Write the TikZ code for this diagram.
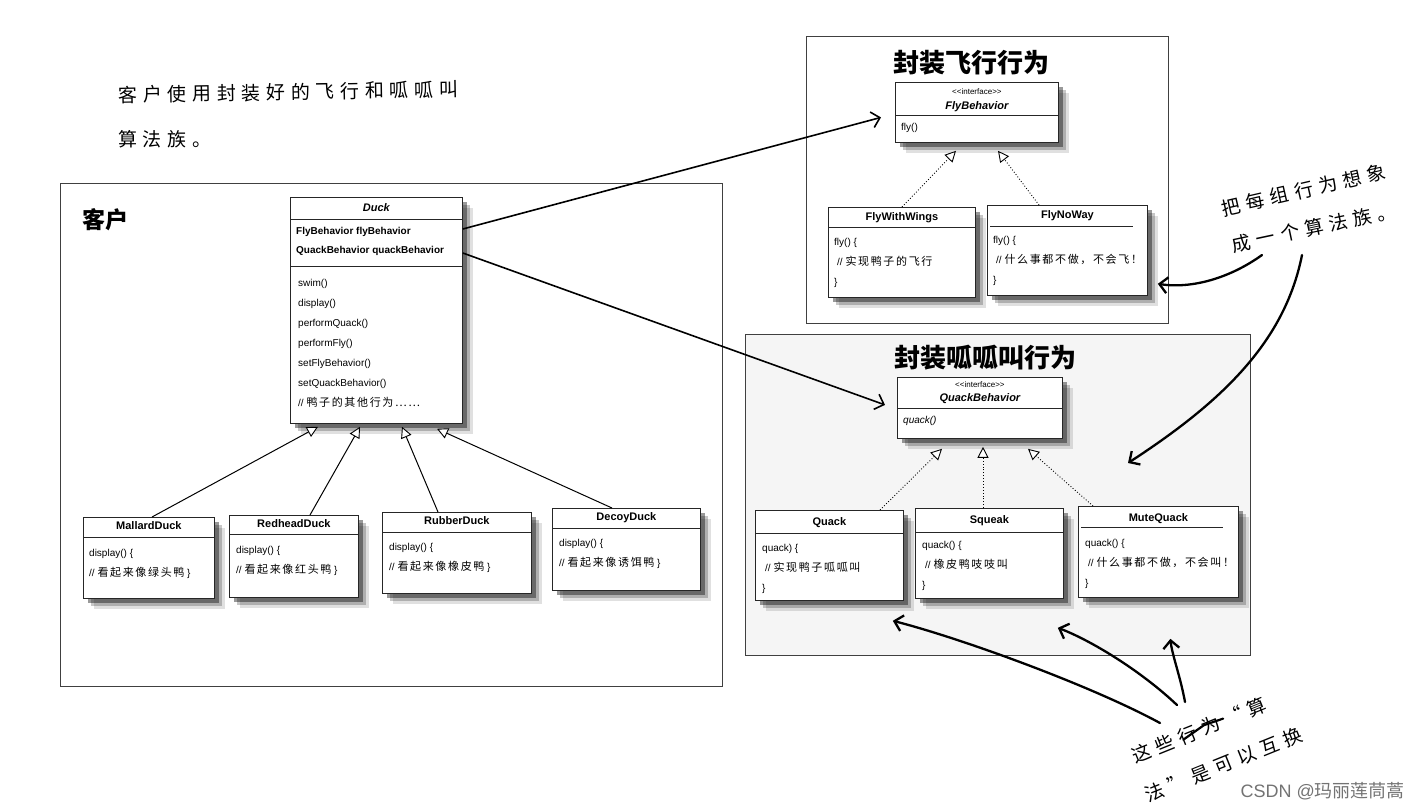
\documentclass[tikz,border=0pt]{standalone}
\usepackage{fontspec}
\setmainfont{Liberation Sans}
\newfontfamily\zhfont{Noto Sans CJK SC}
\newfontfamily\zhbody[LetterSpace=15]{Noto Sans CJK SC}
\newfontfamily\zhhand[LetterSpace=30]{Noto Sans CJK SC}
\usepackage{tikz}
\usetikzlibrary{positioning,arrows.meta,calc,shadows}
\tikzset{
  frame/.style  = {rectangle, draw=black!75, line width=1.3pt, anchor=north west, inner sep=0pt},
  cls/.style    = {rectangle, draw=black!85, fill=white, line width=0.8pt, anchor=north west, inner sep=0pt,
                   drop shadow={shadow xshift=11pt, shadow yshift=-11pt, fill=black, opacity=.12},
                   drop shadow={shadow xshift=8pt, shadow yshift=-8pt, fill=black, opacity=.22},
                   drop shadow={shadow xshift=5pt, shadow yshift=-5pt, fill=black, opacity=.4}},
  ttl/.style    = {inner sep=0pt, font=\fontsize{11}{12}\selectfont\bfseries},
  ittl/.style   = {inner sep=0pt, font=\fontsize{11}{12}\selectfont\bfseries\itshape},
  stereo/.style = {inner sep=0pt, font=\fontsize{8}{9}\selectfont},
  body/.style   = {inner sep=0pt, anchor=north west, align=left, font=\fontsize{10}{20}\selectfont},
  divl/.style   = {draw=black!85, line width=0.6pt},
  grp/.style    = {inner sep=0pt, font=\zhfont\fontsize{26}{28}\selectfont\bfseries},
  hand/.style   = {inner sep=0pt, anchor=west, font=\zhhand\fontsize{19}{21}\selectfont},
  inh/.style    = {line width=1pt, -{Triangle[open, length=11pt, width=11pt, fill=white, line width=0.9pt]}},
  impl/.style   = {line width=0.9pt, dotted, -{Triangle[open, length=11pt, width=11pt, fill=white, line width=0.9pt]}},
  assoc/.style  = {line width=1.6pt, -{Straight Barb[length=8pt, width=16pt, line width=1.6pt]}},
  note/.style   = {line width=2.3pt, line cap=round, -{Straight Barb[length=8pt, width=16pt, line width=2.3pt]}},
}
\newcommand{\zh}[1]{{\zhbody\fontsize{11}{20}\selectfont #1}}

\begin{document}
\begin{tikzpicture}[x=1pt, y=-1pt]
  \useasboundingbox (0,0) rectangle (1420,809);

  % client side
  \node[frame, minimum width=662pt, minimum height=503pt] (client) at (60,183) {};
  \node[inner sep=0pt, font=\zhfont\fontsize{23}{25}\selectfont\bfseries] (clientlbl) at (105,220) {客户};

  \node[cls, minimum width=172pt, minimum height=226pt] (duck) at (290,197) {};
  \node[ittl, below=6pt of duck.north] (duckname) {Duck};
  \draw[divl] ($(duck.north west)+(0,22)$) -- ($(duck.north east)+(0,22)$);
  \node[body, font=\fontsize{10}{19}\selectfont\bfseries] (duckattr) at ($(duck.north west)+(6,30)$)
    {FlyBehavior flyBehavior\\QuackBehavior quackBehavior};
  \draw[divl] ($(duck.north west)+(0,69)$) -- ($(duck.north east)+(0,69)$);
  \node[body] (duckops) at ($(duck.north west)+(8,82)$)
    {swim()\\display()\\performQuack()\\performFly()\\setFlyBehavior()\\setQuackBehavior()\\// \zh{鸭子的其他行为……}};

  \node[cls, minimum width=131pt, minimum height=81pt] (mallard) at (83,517) {};
  \node[ttl, below=4pt of mallard.north] (mallardname) {MallardDuck};
  \draw[divl] ($(mallard.north west)+(0,20)$) -- ($(mallard.north east)+(0,20)$);
  \node[body] (mallardops) at ($(mallard.north west)+(6,32)$) {display() \{\\// \zh{看起来像绿头鸭} \}};

  \node[cls, minimum width=129pt, minimum height=82pt] (redhead) at (229,515) {};
  \node[ttl, below=4pt of redhead.north] (redheadname) {RedheadDuck};
  \draw[divl] ($(redhead.north west)+(0,19)$) -- ($(redhead.north east)+(0,19)$);
  \node[body] (redheadops) at ($(redhead.north west)+(7,31)$) {display() \{\\// \zh{看起来像红头鸭} \}};

  \node[cls, minimum width=149pt, minimum height=81pt] (rubber) at (382,512) {};
  \node[ttl, below=4pt of rubber.north] (rubbername) {RubberDuck};
  \draw[divl] ($(rubber.north west)+(0,20)$) -- ($(rubber.north east)+(0,20)$);
  \node[body] (rubberops) at ($(rubber.north west)+(7,31)$) {display() \{\\// \zh{看起来像橡皮鸭} \}};

  \node[cls, minimum width=148pt, minimum height=82pt] (decoy) at (552,508) {};
  \node[ttl, below=4pt of decoy.north] (decoyname) {DecoyDuck};
  \draw[divl] ($(decoy.north west)+(0,20)$) -- ($(decoy.north east)+(0,20)$);
  \node[body] (decoyops) at ($(decoy.north west)+(7,31)$) {display() \{\\// \zh{看起来像诱饵鸭} \}};

  \draw[inh] ($(mallard.north west)+(69,0)$) -- ($(duck.south west)+(28,3)$);
  \draw[inh] ($(redhead.north west)+(81,0)$) -- ($(duck.south west)+(70,3)$);
  \draw[inh] ($(rubber.north west)+(56,0)$) -- ($(duck.south west)+(112,3)$);
  \draw[inh] ($(decoy.north west)+(60,0)$) -- ($(duck.south west)+(147,5)$);

  % fly behaviours
  \node[frame, minimum width=362pt, minimum height=287pt] (flyfr) at (806,36) {};
  \node[grp] (flytitle) at (971,63) {封装飞行行为};

  \node[cls, minimum width=163pt, minimum height=60pt] (flyif) at (895,82) {};
  \node[stereo, below=6pt of flyif.north] (flyst) {{<}{<}interface{>}{>}};
  \node[ittl, below=19pt of flyif.north] (flyname) {FlyBehavior};
  \draw[divl] ($(flyif.north west)+(0,33)$) -- ($(flyif.north east)+(0,33)$);
  \node[body] (flyops) at ($(flyif.north west)+(6,41)$) {fly()};

  \node[cls, minimum width=147pt, minimum height=90pt] (flywings) at (828,207) {};
  \node[ttl, below=5pt of flywings.north] (flywingsname) {FlyWithWings};
  \draw[divl] ($(flywings.north west)+(0,20)$) -- ($(flywings.north east)+(0,20)$);
  \node[body] (flywingsops) at ($(flywings.north west)+(6,31)$)
    {fly() \{\\\hspace{3pt}// \zh{实现鸭子的飞行}\\\}};

  \node[cls, minimum width=160pt, minimum height=90pt] (flynoway) at (987,205) {};
  \node[ttl, below=5pt of flynoway.north] (flynowayname) {FlyNoWay};
  \draw[divl] ($(flynoway.north west)+(3,21)$) -- ($(flynoway.north west)+(146,21)$);
  \node[body] (flynowayops) at ($(flynoway.north west)+(6,31)$)
    {fly() \{\\\hspace{3pt}// \zh{什么事都不做，不会飞！}\\\}};

  \draw[impl] ($(flywings.north west)+(74,0)$) -- ($(flyif.south west)+(61,8)$);
  \draw[impl] ($(flynoway.north west)+(52,0)$) -- ($(flyif.south west)+(103,8)$);

  % quack behaviours
  \node[frame, fill=black!4, minimum width=505pt, minimum height=321pt] (quackfr) at (745,334) {};
  \node[grp] (quacktitle) at (985,358) {封装呱呱叫行为};

  \node[cls, minimum width=165pt, minimum height=61pt] (quackif) at (897,377) {};
  \node[stereo, below=4pt of quackif.north] (quackst) {{<}{<}interface{>}{>}};
  \node[ittl, below=16pt of quackif.north] (quackifname) {QuackBehavior};
  \draw[divl] ($(quackif.north west)+(0,31)$) -- ($(quackif.north east)+(0,31)$);
  \node[body, font=\fontsize{10}{20}\selectfont\itshape] (quackifops) at ($(quackif.north west)+(6,39)$) {quack()};

  \node[cls, minimum width=148pt, minimum height=90pt] (quack) at (755,510) {};
  \node[ttl, below=7pt of quack.north] (quackname) {Quack};
  \draw[divl] ($(quack.north west)+(0,23)$) -- ($(quack.north east)+(0,23)$);
  \node[body] (quackops) at ($(quack.north west)+(7,34)$)
    {quack) \{\\\hspace{3pt}// \zh{实现鸭子呱呱叫}\\\}};

  \node[cls, minimum width=148pt, minimum height=90pt] (squeak) at (915,508) {};
  \node[ttl, below=7pt of squeak.north] (squeakname) {Squeak};
  \draw[divl] ($(squeak.north west)+(0,24)$) -- ($(squeak.north east)+(0,24)$);
  \node[body] (squeakops) at ($(squeak.north west)+(7,33)$)
    {quack() \{\\\hspace{3pt}// \zh{橡皮鸭吱吱叫}\\\}};

  \node[cls, minimum width=160pt, minimum height=91pt] (mute) at (1078,506) {};
  \node[ttl, below=7pt of mute.north] (mutename) {MuteQuack};
  \draw[divl] ($(mute.north west)+(3,21)$) -- ($(mute.north west)+(145,21)$);
  \node[body] (muteops) at ($(mute.north west)+(7,33)$)
    {quack() \{\\\hspace{3pt}// \zh{什么事都不做，不会叫！}\\\}};

  \draw[impl] ($(quack.north west)+(125,0)$) -- ($(quackif.south west)+(45,10)$);
  \draw[impl] ($(squeak.north west)+(68,0)$) -- ($(quackif.south west)+(86,8)$);
  \draw[impl] ($(mute.north west)+(15,0)$) -- ($(quackif.south west)+(131,10)$);

  % has-a
  \draw[assoc] ($(duck.north east)+(0,32)$) -- ($(flyif.west)+(-14,5)$);
  \draw[assoc] ($(duck.north east)+(0,56)$) -- ($(quackif.west)+(-12,-3)$);

  % hand notes
  \node[hand, rotate=1] (noteuse) at (118,95) {客户使用封装好的飞行和呱呱叫};
  \node[hand] (noteuse2) at (118,139) {算法族。};
  \node[hand, rotate=13] (notefam) at (1222,209) {把每组行为想象};
  \node[hand, rotate=12] (notefam2) at (1232,245) {成一个算法族。};
  \node[hand, rotate=22] (noteswap) at (1133,757) {这些行为“算};
  \node[hand, rotate=22] (noteswap2) at (1146,796) {法”是可以互换};
  \draw[line width=2.2pt, line cap=round] ($(noteswap.west)!0.38!(noteswap.east)+(0,3)$)
    -- ($(noteswap.west)!0.52!(noteswap.east)+(2,-4)$) -- ($(noteswap.west)!0.68!(noteswap.east)+(0,-2)$);

  \coordinate (famfoot) at (1262,255);
  \coordinate (famfoot2) at (1302,255);
  \coordinate (swapfoot) at (1160,723);
  \coordinate (swapfoot2) at (1177,705);
  \coordinate (swapfoot3) at (1185,702);
  \draw[note] (famfoot) .. controls (1230,278) and (1192,289) .. ($(flynoway.south east)+(10,-12)$);
  \draw[note] (famfoot2) .. controls (1285,340) and (1225,400) .. (1128,463);
  \draw[note] (swapfoot) .. controls (1090,685) and (960,638) .. ($(quack.south east)+(-11,20)$);
  \draw[note] (swapfoot2) .. controls (1140,670) and (1090,640) .. ($(squeak.south east)+(-6,29)$);
  \draw[note] (swapfoot3) .. controls (1180,675) and (1172,655) .. ($(mute.south)+(12,41)$);

  \node[anchor=east, inner sep=0pt, text=black!55, font=\fontsize{18}{20}\selectfont] (mark) at (1405,791) {CSDN @{\zhfont 玛丽莲茼蒿}};
\end{tikzpicture}
\end{document}
